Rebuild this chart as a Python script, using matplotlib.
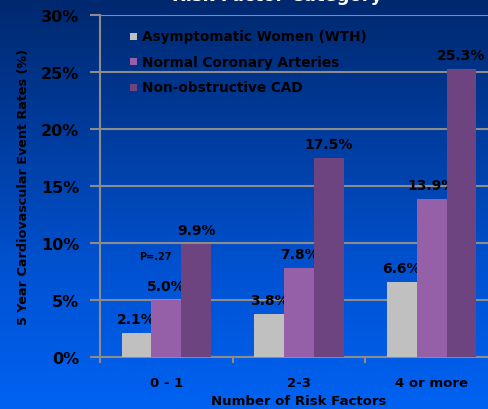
import numpy as np
import matplotlib
matplotlib.use("Agg")
import matplotlib.pyplot as plt
from matplotlib.colors import LinearSegmentedColormap
from matplotlib.patches import Rectangle

# data
categories = ["0 - 1", "2-3", "4 or more"]
series_names = ["Asymptomatic Women (WTH)", "Normal Coronary Arteries", "Non-obstructive CAD"]
asymptomatic = [2.1, 3.8, 6.6]
normal_arteries = [5.0, 7.8, 13.9]
nonobstructive = [9.9, 17.5, 25.3]
y_ticks = [0, 5, 10, 15, 20, 25, 30]

series = [asymptomatic, normal_arteries, nonobstructive]
colors = ["#c0c0c0", "#9660a8", "#6e4480"]

plt.rcParams["font.family"] = "DejaVu Sans"

fig = plt.figure(figsize=(4.88, 4.10), dpi=100)

# blue background gradient, dark at the top
bg = fig.add_axes([0, 0, 1, 1], zorder=-10)
grad = np.linspace(0, 1, 256).reshape(-1, 1)
cmap = LinearSegmentedColormap.from_list("bg", ["#00286e", "#003c9e", "#0052d2", "#0062f2"])
bg.imshow(grad, aspect="auto", cmap=cmap, extent=[0, 1, 0, 1], origin="upper")
bg.axis("off")

ax = fig.add_axes([100 / 488, 52 / 410, 398 / 488, 342 / 410])
ax.patch.set_alpha(0)

x = np.arange(len(categories))
width = 0.225
for i, (vals, name, c) in enumerate(zip(series, series_names, colors)):
    pos = x + (i - 1) * width
    ax.bar(pos, vals, width=width, color=c, label=name, zorder=3)
    for px, v in zip(pos, vals):
        ax.annotate(f"{v:.1f}%", (px, v), xytext=(0, 5), textcoords="offset points",
                    ha="center", va="bottom", fontsize=10, fontweight="bold", color="black")

ax.text(-0.08, 8.9, "P=.27", fontsize=7, fontweight="bold", ha="center", va="center")

ax.set_xlim(-0.5, 2.5)
ax.set_ylim(0, 30)
ax.set_yticks(y_ticks)
ax.set_yticklabels([f"{t}%" for t in y_ticks], fontsize=11.5, fontweight="bold")
ax.yaxis.grid(True, color="#8c8c8c", linewidth=1.5, zorder=0)
ax.set_axisbelow(True)

ax.set_xticks(x)
ax.set_xticklabels(categories, fontsize=9.5, fontweight="bold")
ax.set_xticks([-0.5, 0.5, 1.5], minor=True)
ax.tick_params(axis="x", which="major", length=0, pad=14)
ax.tick_params(axis="x", which="minor", length=4, width=1.5, color="#8c8c8c")
ax.tick_params(axis="y", length=7, width=1.5, color="#8c8c8c", pad=8)

for s in ["top", "right"]:
    ax.spines[s].set_visible(False)
for s in ["left", "bottom"]:
    ax.spines[s].set_color("#8c8c8c")
    ax.spines[s].set_linewidth(1.5)

ax.set_xlabel("Number of Risk Factors", fontsize=9.5, fontweight="bold", labelpad=3)
ax.set_ylabel("5 Year Cardiovascular Event Rates (%)", fontsize=9.2, fontweight="bold", labelpad=8)

# legend, drawn by hand: small colour squares with black labels
for i, (name, c) in enumerate(zip(series_names, colors)):
    yy = 1 - (37 + 25.5 * i) / 410
    fig.patches.append(Rectangle((130 / 488, yy - 3.5 / 410), 7 / 488, 7 / 410,
                                 facecolor=c, edgecolor="none", transform=fig.transFigure))
    fig.text(142 / 488, yy, name, color="black", fontsize=9.8, fontweight="bold",
             ha="left", va="center")

fig.text(277 / 488, 1 - 1 / 410, "Risk Factor Category", color="white", fontsize=13,
         fontweight="bold", ha="center", va="baseline")

fig.savefig("out.png", dpi=100)
